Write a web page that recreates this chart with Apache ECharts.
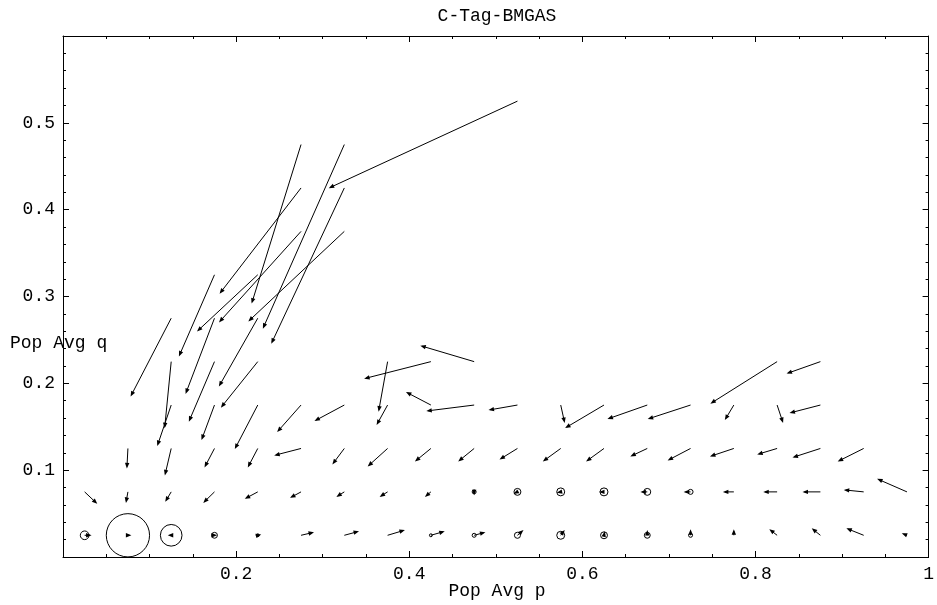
<!DOCTYPE html>
<html>
<head>
<meta charset="utf-8">
<script src="https://cdn.jsdelivr.net/npm/echarts@6/dist/echarts.min.js"></script>
<style>
  html, body { margin: 0; padding: 0; background: #fff; }
  #chart { width: 937px; height: 605px; }
</style>
</head>
<body>
<div id="chart"></div>
<script>
// Field samples: tail position (p, q) and displacement (dp, dq) per grid cell
const arrowP = [
  // q = 0.025
  0.025, 0.075, 0.125, 0.175, 0.225, 0.275, 0.325, 0.375, 0.425, 0.475,
  0.525, 0.575, 0.625, 0.675, 0.725, 0.775, 0.825, 0.875, 0.925, 0.975,
  // q = 0.075
  0.025, 0.075, 0.125, 0.175, 0.225, 0.275, 0.325, 0.375, 0.425, 0.475,
  0.525, 0.575, 0.625, 0.675, 0.725, 0.775, 0.825, 0.875, 0.925, 0.975,
  // q = 0.125
  0.075, 0.125, 0.175, 0.225, 0.275, 0.325, 0.375, 0.425, 0.475,
  0.525, 0.575, 0.625, 0.675, 0.725, 0.775, 0.825, 0.875, 0.925,
  // q = 0.175
  0.125, 0.175, 0.225, 0.275, 0.325, 0.375, 0.425, 0.475,
  0.525, 0.575, 0.625, 0.675, 0.725, 0.775, 0.825, 0.875,
  // q = 0.225
  0.125, 0.175, 0.225, 0.375, 0.425, 0.475, 0.825, 0.875,
  // q = 0.275
  0.125, 0.175, 0.225,
  // q = 0.325
  0.175, 0.225,
  // q = 0.375
  0.275, 0.325,
  // q = 0.425
  0.275, 0.325,
  // q = 0.475
  0.275, 0.325,
  // q = 0.525
  0.525
];
const arrowQ = [
  0.025, 0.025, 0.025, 0.025, 0.025, 0.025, 0.025, 0.025, 0.025, 0.025,
  0.025, 0.025, 0.025, 0.025, 0.025, 0.025, 0.025, 0.025, 0.025, 0.025,
  0.075, 0.075, 0.075, 0.075, 0.075, 0.075, 0.075, 0.075, 0.075, 0.075,
  0.075, 0.075, 0.075, 0.075, 0.075, 0.075, 0.075, 0.075, 0.075, 0.075,
  0.125, 0.125, 0.125, 0.125, 0.125, 0.125, 0.125, 0.125, 0.125,
  0.125, 0.125, 0.125, 0.125, 0.125, 0.125, 0.125, 0.125, 0.125,
  0.175, 0.175, 0.175, 0.175, 0.175, 0.175, 0.175, 0.175,
  0.175, 0.175, 0.175, 0.175, 0.175, 0.175, 0.175, 0.175,
  0.225, 0.225, 0.225, 0.225, 0.225, 0.225, 0.225, 0.225,
  0.275, 0.275, 0.275,
  0.325, 0.325,
  0.375, 0.375,
  0.425, 0.425,
  0.475, 0.475,
  0.525
];
const arrowDP = [
  0.008, 0.004, -0.004, 0.003, 0.004, 0.015, 0.017, 0.020, 0.016, 0.013,
  0.007, 0.0046, 0.001, 0.0, 0.0, 0.0, -0.009, -0.010, -0.020, -0.006,
  0.0146, -0.0023, -0.0069, -0.013, -0.015, -0.0127, -0.0092, -0.0092, -0.0069, 0.0,
  -0.0046, -0.0046, -0.0058, -0.008, -0.008, -0.0127, -0.016, -0.0207, -0.023, -0.0345,
  -0.0012, -0.0073, -0.0115, -0.0115, -0.031, -0.0138, -0.023, -0.0184, -0.0184,
  -0.0207, -0.0207, -0.0207, -0.0196, -0.0265, -0.0276, -0.023, -0.0322, -0.030,
  -0.0161, -0.015, -0.0265, -0.0276, -0.0345, -0.0127, -0.0288, -0.0553,
  -0.0334, 0.0046, -0.0449, -0.046, -0.0495, -0.0104, 0.0069, -0.0357,
  -0.0076, -0.0296, -0.0426, -0.0104, -0.0771, -0.0622, -0.0771, -0.0391,
  -0.0469, -0.0334, -0.0449,
  -0.0411, -0.0702,
  -0.0948, -0.1109,
  -0.0941, -0.0844,
  -0.0571, -0.0941,
  -0.218
];
const arrowDQ = [
  0.0, 0.0, 0.0, 0.0, 0.001, 0.0035, 0.0046, 0.006, 0.0046, 0.0035,
  0.006, 0.006, 0.0046, 0.006, 0.007, 0.007, 0.007, 0.008, 0.008, 0.0023,
  -0.0138, -0.0127, -0.0115, -0.0127, -0.008, -0.0069, -0.0058, -0.0058, -0.0058, -0.004,
  -0.0023, -0.001, 0.0, 0.0, 0.0, 0.0, 0.0, 0.0, 0.0023, 0.015,
  -0.023, -0.031, -0.0219, -0.0219, -0.008, -0.0184, -0.0207, -0.015, -0.015,
  -0.0127, -0.015, -0.015, -0.0092, -0.0138, -0.0092, -0.0069, -0.0104, -0.015,
  -0.0472, -0.0403, -0.0507, -0.0311, -0.0184, -0.023, 0.015, -0.0069,
  -0.0058, -0.0207, -0.0265, -0.0161, -0.0161, -0.0173, -0.0207, -0.0092,
  -0.0768, -0.0691, -0.053, -0.0576, -0.0196, 0.0184, -0.0484, -0.0138,
  -0.0902, -0.0872, -0.0787,
  -0.0941, -0.0653,
  -0.1048, -0.1037,
  -0.1218, -0.1794,
  -0.1832, -0.212,
  -0.1002
];

// Open circles: centre (p, q) and radius in p units
const circleP = [0.025, 0.075, 0.125, 0.175, 0.225, 0.425, 0.475, 0.525, 0.575, 0.625, 0.675, 0.725,
                 0.475, 0.525, 0.575, 0.625, 0.675, 0.725];
const circleQ = [0.025, 0.025, 0.025, 0.025, 0.025, 0.025, 0.025, 0.025, 0.025, 0.025, 0.025, 0.025,
                 0.075, 0.075, 0.075, 0.075, 0.075, 0.075];
const circleR = [0.005, 0.025, 0.0125, 0.0034, 0.0017, 0.0017, 0.0023, 0.0035, 0.0046, 0.004, 0.0034, 0.0023,
                 0.0023, 0.004, 0.0046, 0.0046, 0.004, 0.0029];

// Axis ticks
const xTicks = [0.2, 0.4, 0.6, 0.8, 1];
const yTicks = [0.1, 0.2, 0.3, 0.4, 0.5];

const FONT = '"Liberation Mono", "DejaVu Sans Mono", monospace';
const FSIZE = 18;

const arrowData = arrowP.map((p, i) => [p, arrowQ[i], arrowDP[i], arrowDQ[i]]);
const circleData = circleP.map((p, i) => [p, circleQ[i], circleR[i]]);

function arrowItem(params, api) {
  const p = api.value(0), q = api.value(1), dp = api.value(2), dq = api.value(3);
  const a = api.coord([p, q]);
  const b = api.coord([p + dp, q + dq]);
  const vx = b[0] - a[0], vy = b[1] - a[1];
  const len = Math.sqrt(vx * vx + vy * vy) || 1;
  const ux = vx / len, uy = vy / len;
  const hl = 5.5, hw = 2.2;
  const bx = b[0] - ux * hl, by = b[1] - uy * hl;
  return {
    type: 'group',
    children: [
      {
        type: 'line',
        shape: { x1: a[0], y1: a[1], x2: b[0] - ux * 2, y2: b[1] - uy * 2 },
        style: { stroke: '#000', lineWidth: 1 }
      },
      {
        type: 'polygon',
        shape: { points: [[b[0], b[1]], [bx - uy * hw, by + ux * hw], [bx + uy * hw, by - ux * hw]] },
        style: { fill: '#000' }
      }
    ]
  };
}

function circleItem(params, api) {
  const c = api.coord([api.value(0), api.value(1)]);
  const r = api.size([api.value(2), 0])[0];
  return {
    type: 'circle',
    shape: { cx: c[0], cy: c[1], r: r },
    style: { fill: 'none', stroke: '#000', lineWidth: 1 }
  };
}

function fmtX(v) {
  return xTicks.some(t => Math.abs(t - v) < 1e-9) ? String(+v.toFixed(2)) : '';
}
function fmtY(v) {
  return yTicks.some(t => Math.abs(t - v) < 1e-9) ? String(+v.toFixed(2)) : '';
}

const lineStyle = { color: '#000', width: 1 };
function xAx(pos, labels) {
  return {
    type: 'value', position: pos, min: 0, max: 1, interval: 0.2,
    axisLine: { show: true, onZero: false, lineStyle },
    axisTick: { show: true, inside: true, length: 6, lineStyle },
    minorTick: { show: true, splitNumber: 4, length: 3, lineStyle },
    splitLine: { show: false },
    axisLabel: {
      show: labels, formatter: fmtX, margin: 8,
      fontFamily: FONT, fontSize: FSIZE, color: '#000'
    }
  };
}
function yAx(pos, labels) {
  return {
    type: 'value', position: pos, min: 0, max: 0.6, interval: 0.1,
    axisLine: { show: true, onZero: false, lineStyle },
    axisTick: { show: true, inside: true, length: 6, lineStyle },
    minorTick: { show: true, splitNumber: 5, length: 3, lineStyle },
    splitLine: { show: false },
    axisLabel: {
      show: labels, formatter: fmtY, margin: 8,
      fontFamily: FONT, fontSize: FSIZE, color: '#000'
    }
  };
}

const chart = echarts.init(document.getElementById('chart'), null, { renderer: 'canvas' });
chart.setOption({
  backgroundColor: '#fff',
  animation: false,
  grid: { left: 63, right: 5, top: 36, bottom: 48 },
  xAxis: [xAx('bottom', true), xAx('top', false)],
  yAxis: [yAx('left', true), yAx('right', false)],
  graphic: [
    {
      type: 'text', x: 497, y: 16,
      style: { text: 'C-Tag-BMGAS', fontFamily: FONT, fontSize: FSIZE, fill: '#000',
               textAlign: 'center', textVerticalAlign: 'middle' }
    },
    {
      type: 'text', x: 497, y: 591,
      style: { text: 'Pop Avg p', fontFamily: FONT, fontSize: FSIZE, fill: '#000',
               textAlign: 'center', textVerticalAlign: 'middle' }
    },
    {
      type: 'text', x: 10, y: 343,
      style: { text: 'Pop Avg q', fontFamily: FONT, fontSize: FSIZE, fill: '#000',
               textAlign: 'left', textVerticalAlign: 'middle' }
    }
  ],
  series: [
    {
      type: 'custom', name: 'circles', renderItem: circleItem,
      data: circleData, xAxisIndex: 0, yAxisIndex: 0, silent: true
    },
    {
      type: 'custom', name: 'field', renderItem: arrowItem,
      data: arrowData, xAxisIndex: 0, yAxisIndex: 0, silent: true
    }
  ]
});
</script>
</body>
</html>
